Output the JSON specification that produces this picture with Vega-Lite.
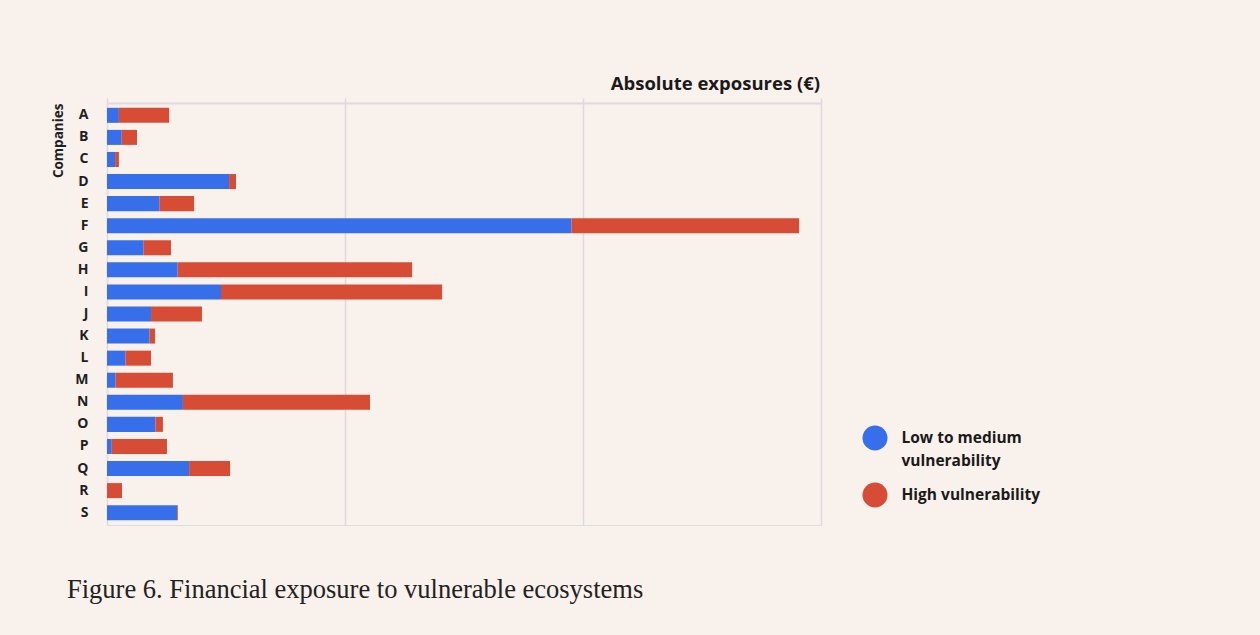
{
  "$schema": "https://vega.github.io/schema/vega-lite/v6.json",
  "autosize": "none",
  "width": 714,
  "height": 422,
  "padding": {"left": 107, "top": 103, "right": 439, "bottom": 110},
  "background": "#f9f1ec",
  "config": {
    "style": {"guide-label": {"lineHeight": 23}}
  },
  "title": {
    "text": "Figure 6. Financial exposure to vulnerable ecosystems",
    "orient": "bottom",
    "anchor": "start",
    "frame": "group",
    "dx": -40,
    "offset": 73,
    "baseline": "alphabetic",
    "font": "Liberation Serif",
    "fontSize": 26.5,
    "fontWeight": "normal",
    "color": "#222222"
  },
  "data": {
    "values": [
      {"company": "A", "level": "Low to medium vulnerability", "exposure": 5.0},
      {"company": "A", "level": "High vulnerability", "exposure": 21.1},
      {"company": "B", "level": "Low to medium vulnerability", "exposure": 6.2},
      {"company": "B", "level": "High vulnerability", "exposure": 6.4},
      {"company": "C", "level": "Low to medium vulnerability", "exposure": 3.4},
      {"company": "C", "level": "High vulnerability", "exposure": 1.6},
      {"company": "D", "level": "Low to medium vulnerability", "exposure": 51.3},
      {"company": "D", "level": "High vulnerability", "exposure": 2.9},
      {"company": "E", "level": "Low to medium vulnerability", "exposure": 22.1},
      {"company": "E", "level": "High vulnerability", "exposure": 14.5},
      {"company": "F", "level": "Low to medium vulnerability", "exposure": 195.2},
      {"company": "F", "level": "High vulnerability", "exposure": 95.6},
      {"company": "G", "level": "Low to medium vulnerability", "exposure": 15.4},
      {"company": "G", "level": "High vulnerability", "exposure": 11.5},
      {"company": "H", "level": "Low to medium vulnerability", "exposure": 29.7},
      {"company": "H", "level": "High vulnerability", "exposure": 98.5},
      {"company": "I", "level": "Low to medium vulnerability", "exposure": 47.9},
      {"company": "I", "level": "High vulnerability", "exposure": 92.9},
      {"company": "J", "level": "Low to medium vulnerability", "exposure": 18.5},
      {"company": "J", "level": "High vulnerability", "exposure": 21.4},
      {"company": "K", "level": "Low to medium vulnerability", "exposure": 17.9},
      {"company": "K", "level": "High vulnerability", "exposure": 2.3},
      {"company": "L", "level": "Low to medium vulnerability", "exposure": 7.8},
      {"company": "L", "level": "High vulnerability", "exposure": 10.7},
      {"company": "M", "level": "Low to medium vulnerability", "exposure": 3.6},
      {"company": "M", "level": "High vulnerability", "exposure": 24.1},
      {"company": "N", "level": "Low to medium vulnerability", "exposure": 31.9},
      {"company": "N", "level": "High vulnerability", "exposure": 78.6},
      {"company": "O", "level": "Low to medium vulnerability", "exposure": 20.4},
      {"company": "O", "level": "High vulnerability", "exposure": 3.1},
      {"company": "P", "level": "Low to medium vulnerability", "exposure": 2.0},
      {"company": "P", "level": "High vulnerability", "exposure": 23.2},
      {"company": "Q", "level": "Low to medium vulnerability", "exposure": 34.5},
      {"company": "Q", "level": "High vulnerability", "exposure": 17.2},
      {"company": "R", "level": "Low to medium vulnerability", "exposure": 0},
      {"company": "R", "level": "High vulnerability", "exposure": 6.3},
      {"company": "S", "level": "Low to medium vulnerability", "exposure": 29.5},
      {"company": "S", "level": "High vulnerability", "exposure": 0.3}
    ]
  },
  "mark": {"type": "bar", "stroke": null},
  "encoding": {
    "y": {
      "field": "company",
      "type": "nominal",
      "sort": null,
      "scale": {"paddingInner": 0.32, "paddingOuter": 0.218},
      "axis": {
        "orient": "left",
        "title": "Companies",
        "domain": false,
        "ticks": false,
        "grid": false,
        "labelPadding": 19,
        "labelFont": "Open Sans",
        "labelFontSize": 14,
        "labelFontWeight": "bold",
        "labelColor": "#1f1f1f",
        "titleFont": "Open Sans",
        "titleFontSize": 13.5,
        "titleFontWeight": "bold",
        "titleColor": "#1f1f1f",
        "titleAngle": -90,
        "titleX": -45,
        "titleY": 0,
        "titleAlign": "right",
        "titleBaseline": "alphabetic"
      }
    },
    "x": {
      "field": "exposure",
      "type": "quantitative",
      "stack": "zero",
      "scale": {"domain": [0, 300], "nice": false},
      "axis": {
        "orient": "top",
        "title": "Absolute exposures (€)",
        "values": [0, 100, 200, 300],
        "labels": false,
        "grid": true,
        "gridColor": "#e2d7e1",
        "gridWidth": 1.5,
        "domainColor": "#e2d7e1",
        "domainWidth": 2,
        "ticks": true,
        "tickSize": 5,
        "tickColor": "#e2d7e1",
        "tickWidth": 1.5,
        "titleFont": "Open Sans",
        "titleFontSize": 18.5,
        "titleFontWeight": "bold",
        "titleColor": "#1a1a1a",
        "titleX": 712.5,
        "titleY": -14,
        "titleAlign": "right",
        "titleBaseline": "alphabetic",
        "zindex": 0
      }
    },
    "color": {
      "field": "level",
      "type": "nominal",
      "scale": {
        "domain": ["Low to medium vulnerability", "High vulnerability"],
        "range": ["#376feb", "#d74c35"]
      },
      "legend": {
        "title": null,
        "orient": "none",
        "legendX": 755.5,
        "legendY": 322.5,
        "padding": 0,
        "symbolType": "circle",
        "symbolSize": 625,
        "symbolStrokeWidth": 0,
        "symbolOpacity": 1,
        "labelFont": "Open Sans",
        "labelFontSize": 15.5,
        "labelFontWeight": "bold",
        "labelColor": "#1a1a1a",
        "labelOffset": 14,
        "labelLimit": 0,
        "rowPadding": 13,
        "labelExpr": "datum.label == 'Low to medium vulnerability' ? ['Low to medium', 'vulnerability'] : datum.label",
        "encode": {
          "labels": {
            "update": {
              "lineHeight": {"value": 23},
              "dy": {"signal": "datum.label == 'Low to medium vulnerability' ? 11.5 : 0"}
            }
          }
        }
      }
    },
    "order": {"field": "level", "sort": "descending"}
  }
}
